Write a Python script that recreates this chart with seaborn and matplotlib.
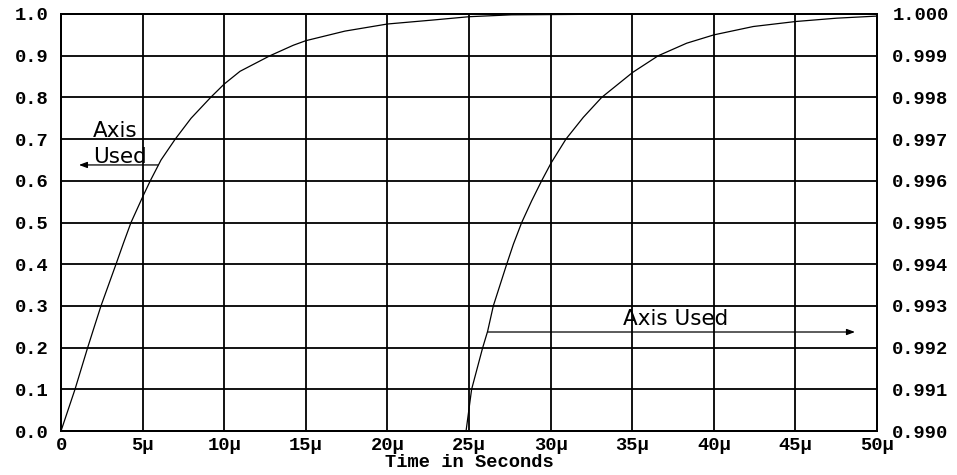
import numpy as np
import pandas as pd
import matplotlib
matplotlib.use("Agg")
import matplotlib.pyplot as plt
import seaborn as sns

# ---- data ----
# Curve 1, left axis (0.0 .. 1.0); time in microseconds
t1 = [0.0, 0.858, 1.23, 1.634, 2.04, 2.45, 3.37, 3.84, 4.29, 5.045, 5.47, 6.13,
      7.0, 7.97, 9.17, 10.0, 10.97, 12.81, 14.23, 15.0, 17.4, 20.0, 22.8,
      25.0, 27.6, 33.3]
v1 = [0.0, 0.1, 0.148, 0.2, 0.25, 0.3, 0.4, 0.452, 0.5, 0.565, 0.6, 0.65,
      0.7, 0.75, 0.8, 0.832, 0.8626, 0.9, 0.925, 0.936, 0.959, 0.976, 0.9856,
      0.9935, 0.998, 0.9995]

# Curve 2, right axis (0.990 .. 1.000)
t2 = [24.82, 25.16, 25.84, 26.14, 26.49, 27.31, 27.72, 28.23, 28.84, 29.45,
      30.02, 30.94, 32.0, 33.13, 35.03, 36.6, 38.34, 40.01, 42.42, 45.02,
      47.53, 50.0]
v2 = [0.990, 0.991, 0.992, 0.99239, 0.993, 0.994, 0.99448, 0.995, 0.99552, 0.996,
      0.99642, 0.997, 0.99752, 0.998, 0.9986, 0.999, 0.9993, 0.9995, 0.9997, 0.99982,
      0.9999, 0.99995]

x_ticks = [0, 5, 10, 15, 20, 25, 30, 35, 40, 45, 50]
x_tick_labels = ["0", "5μ", "10μ", "15μ", "20μ", "25μ", "30μ", "35μ", "40μ", "45μ", "50μ"]
left_ticks = [0.0, 0.1, 0.2, 0.3, 0.4, 0.5, 0.6, 0.7, 0.8, 0.9, 1.0]
right_ticks = [0.990, 0.991, 0.992, 0.993, 0.994, 0.995, 0.996, 0.997, 0.998, 0.999, 1.000]
x_title = "Time in Seconds"
note_text = "Axis Used"

df1 = pd.DataFrame({"t": t1, "v": v1})
df2 = pd.DataFrame({"t": t2, "v": v2})

sns.set_theme(style="white")
plt.rcParams["font.family"] = ["DejaVu Sans"]

W, H = 957, 475
fig = plt.figure(figsize=(W / 100, H / 100), dpi=100)
fig.patch.set_facecolor("white")
L, R, T, B = 61, 877, 14, 431
ax = fig.add_axes([L / W, (H - B) / H, (R - L) / W, (B - T) / H])
ax.set_facecolor("white")

sns.lineplot(data=df1, x="t", y="v", ax=ax, color="black", linewidth=0.9,
             estimator=None, sort=False)
ax.set_xlim(0, 50)
ax.set_ylim(0, 1.0)

ax2 = ax.twinx()
sns.lineplot(data=df2, x="t", y="v", ax=ax2, color="black", linewidth=0.9,
             estimator=None, sort=False)
ax2.set_ylim(0.990, 1.000)
ax2.set_xlim(0, 50)

tick_font = dict(family=["Liberation Mono", "DejaVu Sans Mono"], weight="bold", size=13.5)

ax.set_xticks(x_ticks)
ax.set_xticklabels(x_tick_labels, fontdict=tick_font)
ax.set_yticks(left_ticks)
ax.set_yticklabels([f"{v:.1f}" for v in left_ticks], fontdict=tick_font)
ax2.set_yticks(right_ticks)
ax2.set_yticklabels([f"{v:.3f}" for v in right_ticks], fontdict=tick_font)

ax.tick_params(axis="x", length=0, pad=4, colors="black")
ax.tick_params(axis="y", length=0, pad=9, colors="black")
ax2.tick_params(axis="y", length=0, pad=11, colors="black")

ax.grid(True, color="black", linewidth=1.3)
ax2.grid(False)
for a in (ax, ax2):
    for s in a.spines.values():
        s.set_color("black")
        s.set_linewidth(1.4)

ax.set_xlabel(x_title, fontdict=dict(family=["Liberation Mono", "DejaVu Sans Mono"],
                                     weight="bold", size=13.5), labelpad=0.5, color="black")
ax.set_ylabel("")
ax2.set_ylabel("")

# annotations
note_font = dict(family="DejaVu Sans", size=15.5, color="black")
ax.text(1.96, 0.705, "Axis", va="baseline", ha="left", **note_font)
ax.text(1.96, 0.643, "Used", va="baseline", ha="left", **note_font)
ax.annotate("", xy=(1.10, 0.638), xytext=(5.94, 0.638),
            arrowprops=dict(arrowstyle="-|>,head_length=0.4,head_width=0.15",
                            color="black", lw=0.9, shrinkA=0, shrinkB=0))
ax.text(34.44, 0.2542, note_text, va="baseline", ha="left", **note_font)
ax.annotate("", xy=(48.65, 0.2374), xytext=(26.16, 0.2374),
            arrowprops=dict(arrowstyle="-|>,head_length=0.4,head_width=0.15",
                            color="black", lw=0.9, shrinkA=0, shrinkB=0))

fig.savefig("out.png", dpi=100, facecolor="white")
